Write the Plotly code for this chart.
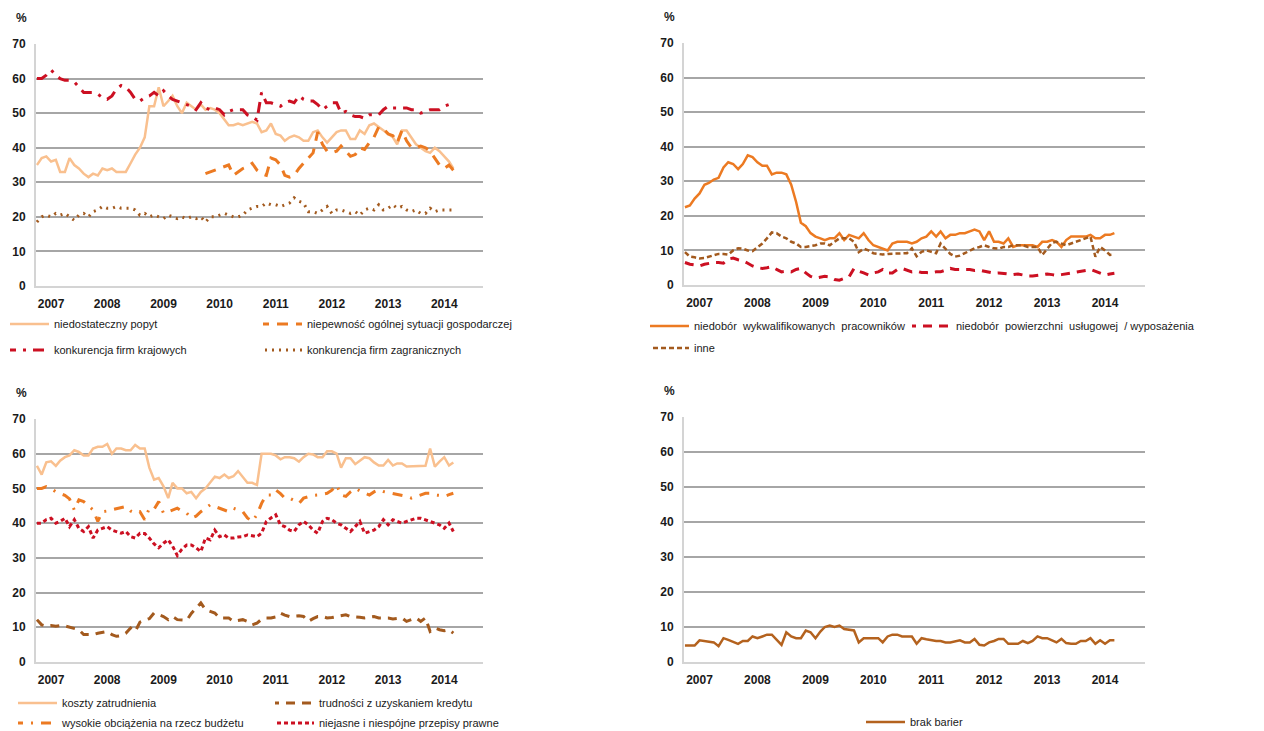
import pandas as pd
import plotly.graph_objects as go
from plotly.subplots import make_subplots

# monthly survey, Oct 2006 - Mar 2014
months = pd.date_range("2006-10-01", periods=90, freq="MS")
year_ticks = [2007, 2008, 2009, 2010, 2011, 2012, 2013, 2014]

# --- panel 1 ---
popyt = [35, 37, 37.5, 36, 36.5, 33, 33, 37, 35, 34, 32.5, 31.5, 32.5, 32, 34, 33.5, 34, 33, 33, 33,
         35.5, 38, 40, 43, 52, 52, 57.5, 52, 53.5, 55, 52, 50, 53, 52, 51, 52.5, 51, 51.5, 51, 50,
         48, 46.5, 46.5, 47, 46.5, 47, 47.5, 47, 44.5, 45, 47, 44, 43.5, 42, 43, 43.5, 43, 42, 42, 44.5,
         45, 43, 41.5, 43, 44.5, 45, 45, 42.5, 42.5, 45, 44, 46.5, 47, 46, 45, 44, 43, 41, 45, 45,
         43, 41, 40, 39, 38.5, 40, 39, 37.5, 36, 34]
niepewnosc = [None] * 36 + [
    32.5, 33, 33.5, 34, 34.5, 35, 32, 33, 34, 34.5, 35.5, 33.5, 32.5, 32, 37, 36.5, 35, 32, 31.5, 32,
    34, 35.5, 37, 38.5, 44.5, 41, 39, 38.5, 39, 40.5, 39, 37.5, 38, 40, 39.5, 41.5, 43, 46, 45.5, 44,
    43.5, 41.5, 45, 42, 40, 40, 40.5, 40, 39, 37, 35, 34, 35, 33.5]
krajowe = [60, 60, 61, 62.5, 61, 60, 59.5, 59.5, 59, 57.5, 56, 56, 56, 55.5, 54.5, 54, 55, 57, 58, 57.5,
           56, 54, 53.5, 54.5, 55, 56, 55, 56.5, 55, 54, 53.5, 53, 52.5, 52, 51, 53, 51.5, 51, 51.5, 51,
           49.5, 50.5, 51, 51, 51, 49.5, 49, 48, 56, 53, 53, 52.5, 52, 53, 53.5, 53, 55, 54, 53.5, 53.5,
           52.5, 51, 52, 53, 53, 50, 50.5, 49.5, 49, 49, 48.5, 49.5, 49.5, 49.5, 51, 52, 51.5, 51.5, 51.5, 51.5,
           51, 51, 50, 50.5, 51, 51, 51, 52, 52.5, 52]
zagraniczne = [18.5, 20, 20.5, 20, 21, 20.5, 21, 20, 19, 20.5, 21, 20, 21.5, 22, 23, 22.5, 22.5, 23, 22.5, 22.5,
               22.5, 22, 20.5, 21, 20, 20.5, 20, 19.5, 20.5, 20, 19.5, 20, 19.5, 20, 19.5, 20, 18.5, 20, 20, 20.5,
               21, 20.5, 20, 20, 20.5, 22, 22.5, 23, 23, 24, 23.5, 23.5, 23, 23.5, 24, 25.5, 24.5, 24, 21.5, 21.5,
               21, 22, 23, 21, 22, 22, 21.5, 21, 21.5, 20.5, 22, 22.5, 22, 23.5, 22, 22.5, 23.5, 22.5, 23, 22,
               21.5, 22, 21, 21, 22.5, 21.5, 22, 22, 22, 22]

# --- panel 2 ---
wykwalifikowani = [22.5, 23, 25, 26.5, 29, 29.5, 30.5, 31, 34, 35.5, 35, 33.5, 35, 37.5, 37, 35.5, 34.5, 34.5, 32, 32.5,
                   32.5, 32, 29, 24, 18, 17, 15, 14, 13.5, 13, 13.5, 13.5, 15, 13, 14.5, 14, 13.5, 15, 13, 11.5,
                   11, 10.5, 10, 12, 12.5, 12.5, 12.5, 12, 12.5, 13.5, 14, 15.5, 14, 15.5, 13.5, 14.5, 14.5, 15, 15, 15.5,
                   16, 15.5, 13, 15.5, 12.5, 12.5, 12, 13.5, 11, 11.5, 11.5, 11.5, 11.5, 11, 12.5, 12.5, 13, 12.5, 11, 13,
                   14, 14, 14, 14, 14.5, 13.5, 13.5, 14.5, 14.5, 15]
powierzchnia = [6.5, 6, 5.8, 5.5, 6, 6.3, 6.5, 6.5, 6.3, 7.5, 7.8, 7.3, 7, 6.3, 5.5, 5, 4.8, 5, 5.3, 4.5,
                3.8, 4, 3.8, 4.5, 4.8, 3.5, 2.5, 2, 2.2, 2.5, 2.3, 1.6, 1.4, 1.8, 2.4, 4.8, 4, 3.5, 2.9, 3.5,
                3.8, 4.5, 3.5, 3.5, 4.5, 4.8, 4.2, 3.8, 4, 3.6, 3.6, 3.5, 3.8, 3.8, 4.3, 4.8, 4.5, 4.6, 4.5, 4.5,
                4.2, 4.3, 4, 3.5, 3.4, 3.5, 3.3, 3, 3, 3.2, 2.8, 2.6, 2.6, 2.8, 2.9, 3.2, 3, 2.8, 3, 3.2,
                3.4, 3.6, 3.8, 4.2, 4.5, 4, 3.4, 2.9, 3.2, 3.4]
inne = [9.5, 8.2, 8, 7.7, 7.8, 8.2, 8.5, 9, 9, 8.8, 10, 10.6, 10.5, 10, 9.8, 11, 12, 13.5, 15.2, 15,
        14, 13.5, 12.5, 12, 11, 11, 11.2, 11.5, 12, 12, 11.5, 12.5, 13.5, 13.5, 13.5, 12.5, 9.5, 10.5, 10, 9.2,
        9, 8.8, 9, 9, 9, 9, 9.2, 10.6, 8.3, 9.6, 10, 9.6, 9.2, 12, 10.5, 9, 8.2, 8.5, 9.2, 10,
        10.6, 11, 11.5, 11, 10.6, 10.5, 11, 11, 11.5, 11.5, 11.5, 11, 11, 11, 8.7, 10.6, 12.2, 12.5, 12, 11.5,
        12, 12.5, 13, 13.5, 14, 8.2, 11, 10, 8.7, 8.8]

# --- panel 3 ---
koszty = [56.5, 54, 57.5, 57.8, 56.5, 58, 59, 59.5, 61, 60.5, 59.5, 59.5, 61.5, 62, 62, 62.8, 60, 61.5, 61.5, 61,
          61, 62.5, 61.5, 61.5, 56, 52.5, 53, 50.6, 47.2, 51.6, 50, 50, 48.6, 49, 47.2, 49, 50, 51.6, 53.4, 53,
          54, 53, 53.5, 55, 53.4, 51.6, 51.6, 51, 60, 60, 60, 59.5, 58.4, 59, 59, 58.7, 57.7, 59, 60, 59.8,
          59, 59, 60.7, 60.7, 60, 56, 58.7, 58.7, 57, 58, 59, 58.7, 57.5, 56.6, 56.6, 58.2, 56.6, 57.2, 57.2, 56.3,
          56.3, 56.5, 56.3, 56.5, 61.5, 56.3, 57.7, 59, 56.6, 57.5]
kredyt = [12.2, 10.7, 10.3, 10.5, 10.3, 10.5, 10.4, 10, 9.6, 9.3, 7.9, 7.8, 7.9, 8.3, 8.6, 8.8, 7.9, 7.4, 7.6, 8.3,
          9.8, 8.8, 11.5, 12, 12.5, 14.1, 13.5, 13.1, 12.2, 13.1, 12.2, 12.2, 12, 14, 15.5, 17, 15.1, 14.5, 14.1, 12.7,
          12.7, 12.7, 11.7, 11.9, 12.2, 11.7, 10.7, 11.2, 12.3, 12.7, 12.7, 13, 14.1, 13.5, 13.1, 13.2, 13.3, 13.1, 11.7, 12.5,
          13.1, 13.1, 12.7, 12.8, 13.1, 13.5, 13.6, 13.1, 13.1, 12.9, 12.7, 13, 13.1, 12.7, 12.7, 12.7, 12.4, 12.5, 12.7, 11.7,
          12.2, 12.7, 11.7, 12.7, 8.8, 9.8, 9.3, 9, 9.3, 8.3]
budzet = [50, 50, 50.5, 50, 49, 48.5, 48, 47, 43.8, 46.7, 46.2, 45, 43.8, 40.5, 43.3, 43.5, 43.8, 44, 44.5, 44.8,
          43.5, 42.9, 43.3, 41, 44.3, 44, 46.2, 42.9, 43.3, 43.8, 44.3, 43.5, 42.9, 41.4, 42, 43.3, 44.3, 45.3, 44.8, 44.3,
          43.8, 43.3, 44.3, 43.8, 43.3, 41.5, 40.5, 42.4, 45.7, 48.1, 48.1, 49.6, 48.5, 47.2, 47.2, 46.5, 45.7, 47.2, 47.7, 48,
          48.1, 48.3, 48.6, 49.5, 51, 48.1, 47.7, 49, 50, 49.3, 48.6, 48.1, 49, 49.6, 49.1, 48.8, 48.6, 48.3, 48.1, 47.7,
          47.2, 47.7, 48.1, 48.6, 48.6, 48.1, 48, 47.7, 48.2, 48.6]
przepisy = [40, 40, 41, 41.4, 40, 40.5, 41.4, 39, 41, 38.5, 37.6, 39, 35.7, 38, 38.5, 39, 38, 37.6, 37.1, 37.6,
            36.1, 35.7, 37.1, 37, 35.7, 34, 32.9, 34.2, 35.2, 33.4, 30.7, 32.5, 33.7, 33.7, 32.9, 31.8, 35.7, 35.2, 38, 36.1,
            36.6, 35.7, 35.7, 36, 36.1, 36.6, 36.3, 36.1, 37.1, 40.5, 41.5, 42.4, 39.5, 39, 38, 37.6, 39.5, 40.5, 39.5, 38,
            37.1, 40.5, 41.4, 41, 40, 39.5, 38.5, 37.6, 39, 40.5, 37.1, 37.5, 38, 39, 41, 39.5, 41, 40.5, 40, 40.5,
            41, 41.4, 41.4, 41, 40.5, 40, 39.5, 38.5, 40, 37.6]

# --- panel 4 ---
brak_barier = [4.7, 4.7, 4.7, 6.2, 6, 5.8, 5.6, 4.5, 6.8, 6.3, 5.8, 5.2, 6, 6, 7.3, 6.8, 7.3, 7.8, 7.8, 6.4,
               4.9, 8.5, 7.3, 6.8, 6.8, 9, 8.5, 6.8, 8.7, 10, 10.4, 10, 10.4, 9.4, 9.2, 9, 5.6, 6.8, 6.8, 6.8,
               6.8, 5.6, 7.3, 7.8, 7.8, 7.3, 7.3, 7.3, 5.2, 6.8, 6.5, 6.2, 6, 6, 5.6, 5.6, 5.8, 6.2, 5.6, 5.6,
               6.6, 4.9, 4.7, 5.6, 6, 6.6, 6.6, 5.2, 5.2, 5.2, 6, 5.4, 6, 7.3, 6.8, 6.8, 6.2, 5.6, 6.6, 5.4,
               5.2, 5.2, 6, 6, 6.8, 5.2, 6.2, 5.2, 6.2, 6.2]

PEACH = "#F9C08F"
ORANGE = "#EC7A22"
RED = "#CC1022"
BROWN = "#A35A1E"
BROWN2 = "#B4621E"
FONT = "Liberation Sans Narrow, Arial Narrow, Liberation Sans, Arial, sans-serif"

# the page body has an 8px margin, so the figure is drawn 8px in from the window corner
OFF = 8
W, H = 1264 - OFF, 731 - OFF


def px(x):
    return (x - OFF) / W


def py(y):
    return 1 - (y - OFF) / H


# series: (name, values, color, dash, width, panel, legend sample x px, legend y px)
series = [
    ("niedostateczny popyt", popyt, PEACH, "solid", 2.5, 1, 10, 324),
    ("niepewność ogólnej sytuacji gospodarczej", niepewnosc, ORANGE, "11px,8px", 3, 1, 263, 324),
    ("konkurencja firm krajowych", krajowe, RED, "11px,7px,3px,7px", 3, 1, 10, 350),
    ("konkurencja firm zagranicznych", zagraniczne, BROWN, "2px,5px", 3, 1, 263, 350),
    ("niedobór  wykwalifikowanych  pracowników", wykwalifikowani, ORANGE, "solid", 2.5, 2, 650, 326),
    ("niedobór  powierzchni  usługowej  / wyposażenia", powierzchnia, RED, "9px,7px", 3, 2, 912, 326),
    ("inne", inne, BROWN, "5px,3px", 2.5, 2, 650, 348),
    ("koszty zatrudnienia", koszty, PEACH, "solid", 2.5, 3, 18, 703),
    ("trudności z uzyskaniem kredytu", kredyt, BROWN, "9px,7px", 3, 3, 275, 703),
    ("wysokie obciążenia na rzecz budżetu", budzet, ORANGE, "10px,8px,2px,8px", 3, 3, 18, 723),
    ("niejasne i niespójne przepisy prawne", przepisy, RED, "4px,3px", 3, 3, 275, 723),
    ("brak barier", brak_barier, BROWN2, "solid", 2.5, 4, 866, 722),
]

fig = make_subplots(rows=2, cols=2)
pos = {1: (1, 1), 2: (1, 2), 3: (2, 1), 4: (2, 2)}
legfont = dict(family=FONT, size=11, color="#1a1a1a")
for i, (name, vals, color, dash, width, panel, lx, ly) in enumerate(series):
    r, c = pos[panel]
    key = "legend" if i == 0 else f"legend{i + 1}"
    fig.add_trace(go.Scatter(x=months, y=vals, name=name, mode="lines",
                             line=dict(color=color, dash=dash, width=width),
                             legend=key, connectgaps=False), row=r, col=c)
    # one small legend per entry, so each sits where it does in the original
    fig.layout[key] = dict(x=max(px(lx), 0), y=py(ly), xanchor="left", yanchor="middle",
                           orientation="h", font=legfont, bgcolor="rgba(0,0,0,0)",
                           itemwidth=44, indentation=-10, itemclick=False)

# plot areas in window pixels: (left, right, top, bottom)
boxes = {1: (36, 483, 44, 286), 2: (684, 1145, 43, 285), 3: (36, 483, 419, 662), 4: (684, 1145, 417, 662)}
tickfont = dict(family=FONT, size=12, color="#1a1a1a", weight="bold")
for p, (x0, x1, y0, y1) in boxes.items():
    sfx = "" if p == 1 else str(p)
    fig.layout["xaxis" + sfx].update(
        domain=[px(x0), px(x1)], range=["2006-09-25", "2014-09-10"],
        tickvals=[f"{y}-01-01" for y in year_ticks], ticktext=[str(y) for y in year_ticks],
        showgrid=False, showline=True, linecolor="#D4D4D4", linewidth=2, ticks="",
        tickfont=tickfont, ticklabelstandoff=6)
    fig.layout["yaxis" + sfx].update(
        domain=[py(y1), py(y0)], range=[0, 70], dtick=10,
        showgrid=True, gridcolor="#A6A6A6", gridwidth=2, zeroline=False,
        showline=True, linecolor="#D4D4D4", linewidth=2, ticks="",
        tickfont=tickfont, ticklabelstandoff=6)
    fig.add_annotation(text="%", x=px(x0 - 15), y=py(y0 - 26), xref="paper", yref="paper",
                       xanchor="center", yanchor="middle", showarrow=False, font=tickfont)

fig.update_layout(width=W, height=H, margin=dict(l=0, r=0, t=0, b=0, autoexpand=False),
                  showlegend=True, paper_bgcolor="white", plot_bgcolor="white",
                  font=dict(family=FONT, size=12, color="#1a1a1a"))

fig.write_html("out.html")
